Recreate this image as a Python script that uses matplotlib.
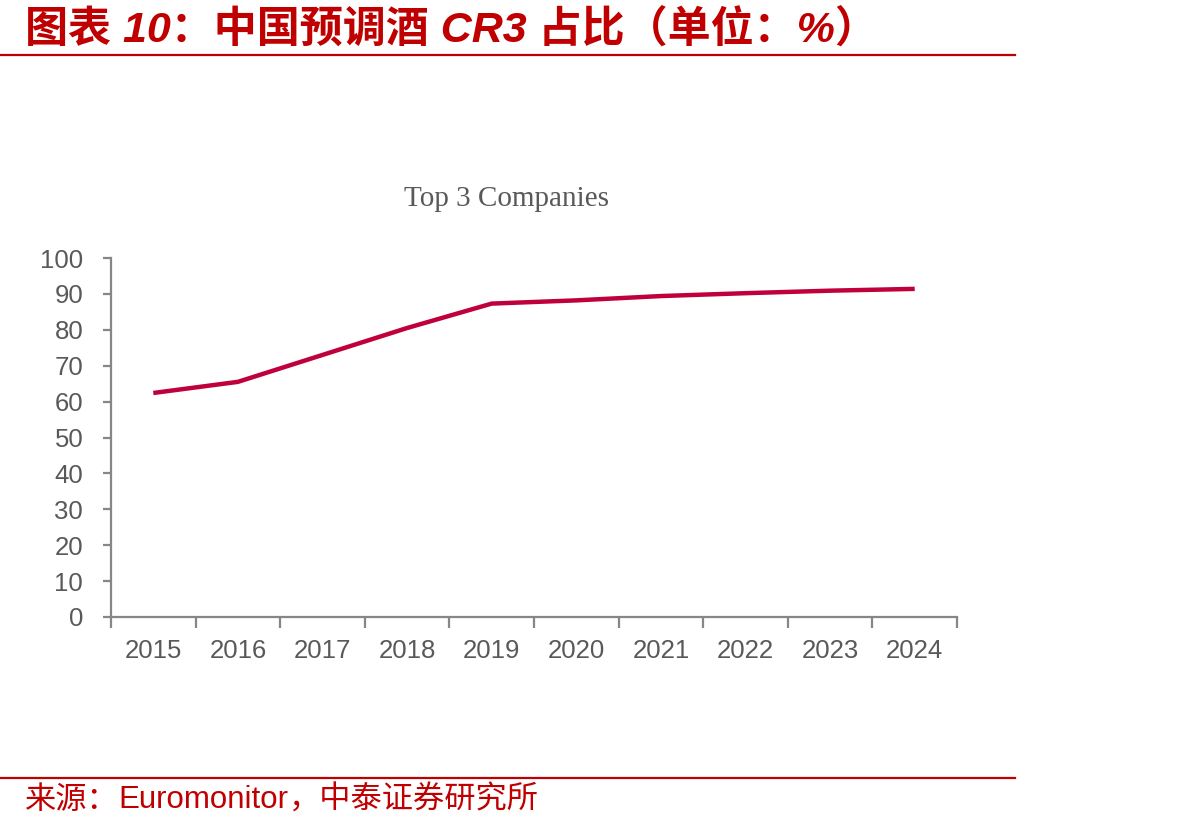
import matplotlib
matplotlib.use("Agg")
import matplotlib.pyplot as plt
import numpy as np

years = ["2015", "2016", "2017", "2018", "2019", "2020", "2021", "2022", "2023", "2024"]
cr3 = [62.4, 65.5, 73.0, 80.5, 87.3, 88.2, 89.4, 90.2, 90.9, 91.4]
yticks = [0, 10, 20, 30, 40, 50, 60, 70, 80, 90, 100]

header = "图表 10：中国预调酒 CR3 占比（单位：%）"
source_cn1 = "来源："
source_en = "Euromonitor"
source_cn2 = "，中泰证券研究所"
chart_title = "Top 3 Companies"

RED = "#C00000"
LINE = "#C0003C"
GRAY = "#595959"
SPINE = "#868686"

W, H = 1192, 831
fig = plt.figure(figsize=(W / 100, H / 100), dpi=100)

# header
fig.text(25 / W, 1 - 30 / H, header, color=RED, fontsize=31, fontweight="bold",
         style="italic", family=["Liberation Sans", "Noto Sans CJK SC"], va="center", ha="left")
fig.add_artist(plt.Line2D([0, 1015 / W], [1 - 55 / H, 1 - 55 / H], color=RED, lw=1.6,
                          transform=fig.transFigure))
fig.add_artist(plt.Line2D([0, 1015 / W], [1 - 778 / H, 1 - 778 / H], color=RED, lw=1.6,
                          transform=fig.transFigure))

# footer
fy = 1 - 800 / H
t1 = fig.text(25 / W, fy, source_cn1, color=RED, fontsize=22.5,
              family=["Noto Sans CJK SC"], va="center", ha="left")
fig.canvas.draw()
r = fig.canvas.get_renderer()
bb = t1.get_window_extent(r)
t2 = fig.text(bb.x1 / W, fy, source_en, color=RED, fontsize=22.5,
              family=["Liberation Sans"], va="center", ha="left")
bb2 = t2.get_window_extent(r)
fig.text(bb2.x1 / W, fy, source_cn2, color=RED, fontsize=22.5,
         family=["Noto Sans CJK SC"], va="center", ha="left")

# chart
ax = fig.add_axes([111 / W, 1 - 617 / H, (957 - 111) / W, (617 - 258) / H])
x = np.arange(len(years))
ax.plot(x, cr3, color=LINE, lw=3.2, solid_capstyle="butt", solid_joinstyle="round")
ax.set_xlim(-0.5, len(years) - 0.5)
ax.set_ylim(0, 100)
ax.set_yticks(yticks)
ax.set_yticklabels([str(v) for v in yticks])
ax.set_xticks(np.arange(len(years) + 1) - 0.5)
ax.set_xticklabels([])
ax.set_xticks(x, minor=True)
ax.set_xticklabels(years, minor=True)
ax.tick_params(axis="x", which="major", length=8, width=1.6, color=SPINE, direction="out")
ax.tick_params(axis="x", which="minor", length=0, pad=16, labelsize=18.5, labelcolor=GRAY)
ax.tick_params(axis="y", length=6, width=1.6, color=SPINE, direction="out", pad=14,
               labelsize=18.5, labelcolor=GRAY)
for lab in ax.get_xticklabels(minor=True) + ax.get_yticklabels():
    lab.set_family("Liberation Sans")
for s in ["top", "right"]:
    ax.spines[s].set_visible(False)
for s in ["left", "bottom"]:
    ax.spines[s].set_color(SPINE)
    ax.spines[s].set_linewidth(1.6)

fig.text(506 / W, 1 - 199 / H, chart_title, color=GRAY, fontsize=21,
         family="Liberation Serif", ha="center", va="center")

fig.savefig("out.png", dpi=100)
